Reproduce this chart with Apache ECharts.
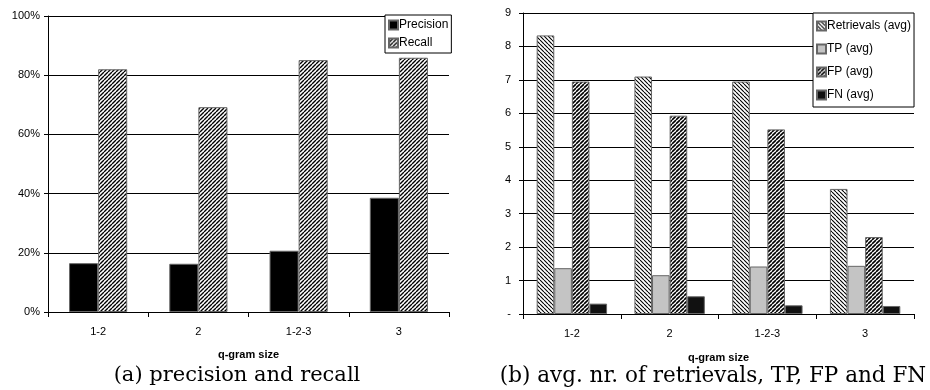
<!DOCTYPE html>
<html>
<head>
<meta charset="utf-8">
<script src="https://cdn.jsdelivr.net/npm/echarts@6/dist/echarts.min.js"></script>
<style>
  html, body { margin: 0; padding: 0; background: #fff; }
  #main { width: 930px; height: 390px; }
</style>
</head>
<body>
<div id="main"></div>
<script>
// q-gram sizes on both charts
var categories = ['1-2', '2', '1-2-3', '3'];

// (a) precision and recall, in percent
var precision = [16.5, 16.3, 20.7, 38.6];
var recall = [82.0, 69.2, 85.1, 85.9];
var pctTicks = [0, 20, 40, 60, 80, 100];

// (b) avg. nr. of retrievals, TP, FP, FN
var retrievals = [8.33, 7.10, 6.95, 3.74];
var tpAvg = [1.37, 1.16, 1.42, 1.44];
var fpAvg = [6.95, 5.93, 5.52, 2.30];
var fnAvg = [0.31, 0.53, 0.26, 0.24];
var countTicks = [0, 1, 2, 3, 4, 5, 6, 7, 8, 9];

var captions = ['(a) precision and recall', '(b) avg. nr. of retrievals, TP, FP and FN'];

function hatch(dir, lw, size) {
    var c = document.createElement('canvas');
    c.width = c.height = size;
    var g = c.getContext('2d');
    g.fillStyle = '#fff';
    g.fillRect(0, 0, size, size);
    g.strokeStyle = '#000';
    g.lineWidth = lw;
    g.beginPath();
    for (var x0 = -size; x0 <= size; x0 += size) {
        if (dir === '/') {
            g.moveTo(x0, size);
            g.lineTo(x0 + size, 0);
        } else {
            g.moveTo(x0, 0);
            g.lineTo(x0 + size, size);
        }
    }
    g.stroke();
    return { image: c, repeat: 'repeat' };
}

var fwd = hatch('/', 1.4, 4);
var back = hatch('\\', 1.1, 4);
var fwdDark = hatch('/', 1.6, 4);

var font = 'Liberation Sans, Arial, sans-serif';
var axisText = { color: '#000', fontFamily: font, fontSize: 11 };

function xAxis(gridIndex, gap) {
    return {
        type: 'category',
        gridIndex: gridIndex,
        data: categories,
        name: 'q-gram size',
        nameLocation: 'middle',
        nameGap: gap,
        nameTextStyle: { color: '#000', fontFamily: font, fontSize: 11, fontWeight: 'bold' },
        axisLine: { lineStyle: { color: '#000', width: 1 } },
        axisTick: { show: true, length: 5, lineStyle: { color: '#000' } },
        axisLabel: Object.assign({ margin: 14 }, axisText),
        splitLine: { show: false }
    };
}

function bar(name, data, color, xi, gap) {
    return {
        name: name,
        type: 'bar',
        xAxisIndex: xi,
        yAxisIndex: xi,
        data: data,
        barGap: 0,
        barCategoryGap: gap,
        itemStyle: { color: color, borderColor: '#666', borderWidth: 1 },
        emphasis: { disabled: true }
    };
}

var chart = echarts.init(document.getElementById('main'));
chart.setOption({
    animation: false,
    backgroundColor: '#fff',
    title: [
        { text: captions[0], left: 232, top: 360, textAlign: 'center',
          textStyle: { fontFamily: 'DejaVu Serif, serif', fontSize: 21, fontWeight: 'normal', color: '#000' } },
        { text: captions[1], left: 708, top: 360, textAlign: 'center',
          textStyle: { fontFamily: 'DejaVu Serif, serif', fontSize: 21.5, fontWeight: 'normal', color: '#000' } }
    ],
    grid: [
        { left: 48, right: 481, top: 16, bottom: 78 },
        { left: 523, right: 16, top: 13, bottom: 76 }
    ],
    legend: [
        {
            data: ['Precision', 'Recall'],
            orient: 'vertical',
            left: 385, top: 15,
            itemWidth: 9, itemHeight: 9, itemGap: 6,
            padding: [4, 3, 4, 3],
            borderColor: '#000', borderWidth: 1, backgroundColor: '#fff',
            textStyle: { color: '#000', fontFamily: font, fontSize: 12, padding: [0, 0, 0, -4] },
            icon: 'rect'
        },
        {
            data: ['Retrievals (avg)', 'TP (avg)', 'FP (avg)', 'FN (avg)'],
            orient: 'vertical',
            left: 813, top: 13,
            itemWidth: 9, itemHeight: 9, itemGap: 11,
            padding: [7, 3, 6, 3],
            borderColor: '#000', borderWidth: 1, backgroundColor: '#fff',
            textStyle: { color: '#000', fontFamily: font, fontSize: 12, padding: [0, 0, 0, -4] },
            icon: 'rect'
        }
    ],
    xAxis: [xAxis(0, 37), xAxis(1, 38)],
    yAxis: [
        {
            type: 'value', gridIndex: 0,
            min: pctTicks[0], max: pctTicks[pctTicks.length - 1], interval: 20,
            axisLine: { show: true, lineStyle: { color: '#000' } },
            axisTick: { show: true, length: 4, lineStyle: { color: '#000' } },
            axisLabel: Object.assign({ formatter: '{value}%', margin: 8 }, axisText),
            splitLine: { lineStyle: { color: '#000', width: 1 } }
        },
        {
            type: 'value', gridIndex: 1,
            min: countTicks[0], max: countTicks[countTicks.length - 1], interval: 1,
            axisLine: { show: true, lineStyle: { color: '#000' } },
            axisTick: { show: true, length: 4, lineStyle: { color: '#000' } },
            axisLabel: Object.assign({
                formatter: function(v) { return v === 0 ? '-' : String(v); },
                margin: 12
            }, axisText),
            splitLine: { lineStyle: { color: '#000', width: 1 } }
        }
    ],
    series: [
        bar('Precision', precision, '#000', 0, '42%'),
        bar('Recall', recall, fwd, 0, '42%'),
        bar('Retrievals (avg)', retrievals, back, 1, '28%'),
        bar('TP (avg)', tpAvg, '#c4c4c4', 1, '28%'),
        bar('FP (avg)', fpAvg, fwdDark, 1, '28%'),
        bar('FN (avg)', fnAvg, '#111', 1, '28%')
    ]
});
</script>
</body>
</html>
